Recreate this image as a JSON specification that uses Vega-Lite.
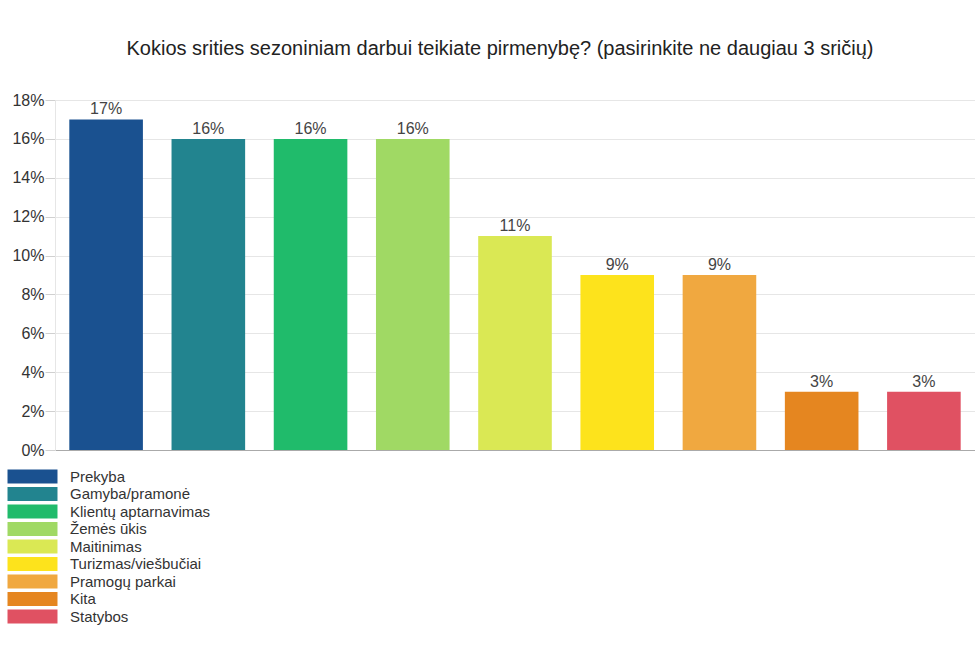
{
  "$schema": "https://vega.github.io/schema/vega-lite/v6.json",
  "autosize": {"type": "none"},
  "padding": {"left": 55, "top": 100, "right": 0, "bottom": 200},
  "width": 920,
  "height": 350,
  "background": "white",
  "config": {"font": "Liberation Sans", "view": {"stroke": null}},
  "title": {
    "text": "Kokios srities sezoniniam darbui teikiate pirmenybę? (pasirinkite ne daugiau 3 sričių)",
    "fontSize": 20,
    "fontWeight": "normal",
    "color": "#222222",
    "anchor": "middle",
    "dx": -15,
    "offset": 33,
    "font": "Liberation Sans"
  },
  "data": {
    "values": [
      {"sritis": "Prekyba", "dalis": 0.17},
      {"sritis": "Gamyba/pramonė", "dalis": 0.16},
      {"sritis": "Klientų aptarnavimas", "dalis": 0.16},
      {"sritis": "Žemės ūkis", "dalis": 0.16},
      {"sritis": "Maitinimas", "dalis": 0.11},
      {"sritis": "Turizmas/viešbučiai", "dalis": 0.09},
      {"sritis": "Pramogų parkai", "dalis": 0.09},
      {"sritis": "Kita", "dalis": 0.03},
      {"sritis": "Statybos", "dalis": 0.03}
    ]
  },
  "encoding": {
    "x": {
      "field": "sritis",
      "type": "nominal",
      "sort": null,
      "scale": {"paddingInner": 0.28, "paddingOuter": 0.14},
      "axis": {"labels": false, "ticks": false, "title": null, "domainColor": "#aaaaaa", "grid": false}
    },
    "y": {
      "field": "dalis",
      "type": "quantitative",
      "scale": {"domain": [0, 0.18], "nice": false},
      "axis": {
        "format": ".0%",
        "values": [0, 0.02, 0.04, 0.06, 0.08, 0.1, 0.12, 0.14, 0.16, 0.18],
        "labelOverlap": false,
        "title": null,
        "labelFontSize": 16,
        "labelColor": "#333333",
        "labelFont": "Liberation Sans",
        "gridColor": "#e6e6e6",
        "domainColor": "#e6e6e6",
        "tickColor": "#d0d0d0",
        "tickSize": 10,
        "labelPadding": 1
      }
    }
  },
  "layer": [
    {
      "mark": {"type": "bar"},
      "encoding": {
        "color": {
          "field": "sritis",
          "type": "nominal",
          "sort": null,
          "scale": {
            "domain": ["Prekyba", "Gamyba/pramonė", "Klientų aptarnavimas", "Žemės ūkis", "Maitinimas", "Turizmas/viešbučiai", "Pramogų parkai", "Kita", "Statybos"],
            "range": ["#1a5190", "#22848f", "#20bb6b", "#a0d964", "#dae854", "#fde31c", "#f0a840", "#e58620", "#e05162"]
          },
          "legend": {
            "orient": "none",
            "legendX": -30,
            "legendY": 369,
            "padding": 0,
            "direction": "vertical",
            "title": null,
            "symbolType": "M-3.57,-1H3.57V1H-3.57Z",
            "symbolSize": 196,
            "symbolStrokeWidth": 0,
            "symbolOpacity": 1,
            "labelFontSize": 15,
            "labelColor": "#333333",
            "labelFont": "Liberation Sans",
            "rowPadding": 1.5,
            "labelOffset": 30
          }
        }
      }
    },
    {
      "mark": {"type": "text", "dy": -10, "fontSize": 16, "color": "#444444", "font": "Liberation Sans"},
      "encoding": {
        "text": {"field": "dalis", "type": "quantitative", "format": ".0%"}
      }
    }
  ]
}
